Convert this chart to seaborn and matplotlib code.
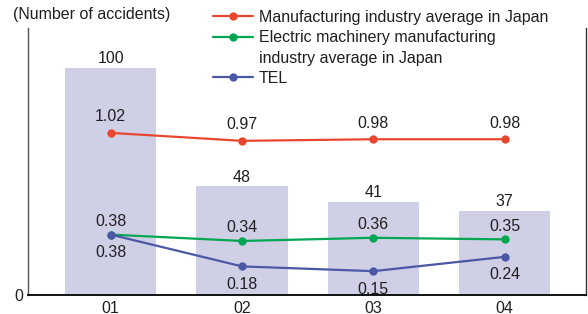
import numpy as np
import pandas as pd
import matplotlib
matplotlib.use("Agg")
import matplotlib.pyplot as plt
from matplotlib.lines import Line2D
import seaborn as sns

years = ["01", "02", "03", "04"]
accidents = [100, 48, 41, 37]
mfg_avg = [1.02, 0.97, 0.98, 0.98]
elec_avg = [0.38, 0.34, 0.36, 0.35]
tel = [0.38, 0.18, 0.15, 0.24]
series_names = ["Manufacturing industry average in Japan",
                "Electric machinery manufacturing\nindustry average in Japan",
                "TEL"]

sns.set_theme(style="white")
plt.rcParams['font.family'] = ['Liberation Sans', 'DejaVu Sans']
plt.rcParams['font.size'] = 11.5

RED = "#e8472f"
GREEN = "#00a651"
BLUE = "#4b57a7"
BAR = "#cfcfe6"
TXT = "#231f20"

W, H = 588, 314
fig = plt.figure(figsize=(W/100, H/100), dpi=100)
ax = fig.add_axes([28/W, (H-295)/H, (586-28)/W, (295-28)/H])

df = pd.DataFrame({"year": years, "accidents": accidents})
sns.barplot(data=df, x="year", y="accidents", color=BAR, width=0.695,
            saturation=1, ax=ax, edgecolor="none")
ax.set_xlim(-0.63, 3.62)
ax.set_ylim(0, 117.6)
ax.set_xlabel("")
ax.set_ylabel("")
ax.set_yticks([0])
ax.set_yticklabels(["0"], color=TXT)
ax.tick_params(axis="both", length=0, labelsize=11.5, colors=TXT)
ax.tick_params(axis="y", pad=3.5)
ax.tick_params(axis="x", pad=4)
for bar, v in zip(ax.patches, accidents):
    ax.annotate(f"{v}", (bar.get_x() + bar.get_width()/2, bar.get_height()),
                xytext=(0, 9), textcoords="offset pixels", ha="center",
                va="center", color=TXT, fontsize=11.5)

ax2 = ax.twinx()
ax2.set_ylim(0, 1.68)
pos = np.arange(len(years))
for vals, col, name, off in [(mfg_avg, RED, series_names[0], 16),
                             (elec_avg, GREEN, series_names[1], 13),
                             (tel, BLUE, series_names[2], -18)]:
    sns.lineplot(x=pos, y=vals, color=col, marker="o", markersize=6,
                 markeredgewidth=0, linewidth=1.6, ax=ax2, label=name)
    for x, v in zip(pos, vals):
        ax2.annotate(f"{v:.2f}", (x, v), xytext=(0, off), textcoords="offset pixels",
                     ha="center", va="center", color=TXT, fontsize=11.5)
ax2.set_yticks([])
ax2.set_ylabel("")
ax2.get_legend().remove()
ax2.set_xlim(-0.63, 3.62)

for a in (ax, ax2):
    for s in ("top", "right", "left", "bottom"):
        a.spines[s].set_visible(False)
ax.spines["bottom"].set_visible(True)
ax.spines["bottom"].set_color("black")
ax.spines["bottom"].set_linewidth(1.3)
ax.spines["left"].set_visible(True)
ax.spines["left"].set_color("#555555")
ax.spines["left"].set_linewidth(1.0)
ax.spines["right"].set_visible(True)
ax.spines["right"].set_color("#333333")
ax.spines["right"].set_linewidth(1.0)
ax2.set_zorder(ax.get_zorder() + 1)
ax2.patch.set_visible(False)

handles, labels = ax2.get_legend_handles_labels()
# split multi-line label so handle aligns with first line
leg_h, leg_l = [], []
for h, l in zip(handles, labels):
    parts = l.split("\n")
    leg_h.append(h)
    leg_l.append(parts[0])
    for p in parts[1:]:
        leg_h.append(Line2D([], [], linestyle="none", marker=None))
        leg_l.append(p)
fig.legend(leg_h, leg_l, loc="upper left", bbox_to_anchor=(213/W, 1 - 10/H),
           frameon=False, fontsize=11.5, handlelength=2.5, handletextpad=0.35,
           labelspacing=0.33, borderpad=0, borderaxespad=0, labelcolor=TXT)

fig.text(13/W, 1 - 15/H, "(Number of accidents)", ha="left", va="center",
         color=TXT, fontsize=11.5)

fig.savefig("out.png", dpi=100)
